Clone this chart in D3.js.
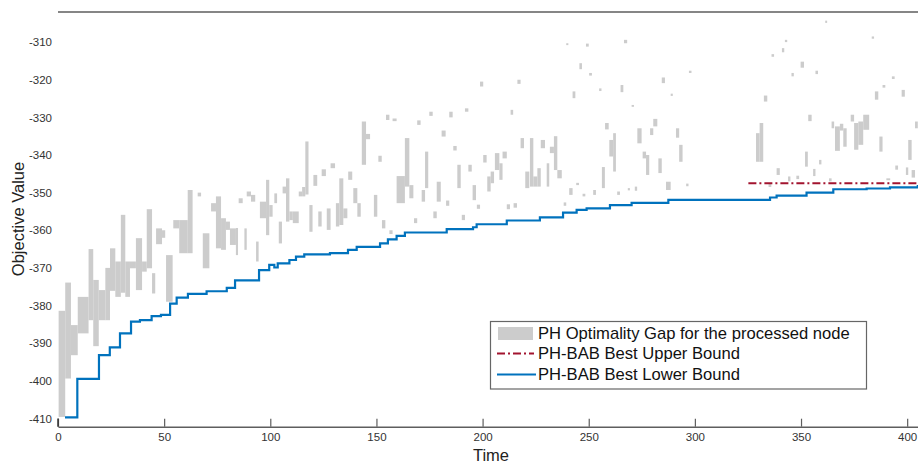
<!DOCTYPE html>
<html>
<head>
<meta charset="utf-8">
<script src="https://cdn.jsdelivr.net/npm/d3@7"></script>
<style>
	body { margin: 0; background: #fff; }
	svg { display: block; font-family: "Liberation Sans", Arial, sans-serif; }
</style>
</head>
<body>
<div id="chart"></div>
<script>

//Optimality gap of each processed node: start time, end time, lower value, upper value
var gapStart = [0.3, 3.4, 6.1, 9.3, 14.4, 16.6, 19.2, 22.3, 24.5, 27, 29.6, 31.7, 33.9, 36.7, 39.6, 41.8, 44.3, 46.2, 49, 50.9,
	54.3, 57.1, 61.1, 65.8, 68.2, 72.1, 74.4, 76.8, 79.1, 81, 83.8, 85.1, 87.8, 88.9, 90.9, 93.3, 95.1, 98, 99.5, 101.9,
	104, 105.8, 107.4, 109, 110.6, 113.4, 115, 116.5, 118.4, 120.3, 122.6, 124.2, 126.6, 128.4, 130.9, 132.5, 134.4, 136.7, 139.1, 141,
	143.1, 145.1, 148.8, 150.9, 152.6, 154.5, 156.1, 157.6, 159.5, 163.4, 165.5, 167.7, 169.2, 171.3, 172.9, 174.9, 176.8, 178.4, 180.7, 182.8,
	184.3, 186.2, 188.1, 190.2, 191.7, 193.3, 195.3, 197.3, 198.8, 200.3, 202.2, 203.8, 205.8, 207.9, 209.4, 211.4, 213.2, 214.6, 216.4, 217.9,
	220.1, 222.3, 223.9, 225.8, 227.4, 230.2, 231.7, 233.6, 235.2, 238.2, 239.4, 240.8, 242.4, 244.1, 245.6, 247.1, 248.7, 250.2, 252.1, 254.9,
	256.2, 257.7, 259.7, 261.5, 263.4, 265, 266.6, 268.4, 270.2, 271.7, 272.9, 275.4, 277, 278.9, 280.4, 282.8, 284.4, 286.4, 288.6, 291.1,
	292.6, 295.9, 297.2, 328.8, 330.5, 332.5, 334.7, 336.1, 338.5, 341, 342.4, 343.9, 345.5, 347.8, 349.8, 351.9, 353.4, 355.7, 356.8, 358.5,
	361.4, 363.2, 364.4, 366, 368.3, 369.9, 373.4, 375, 377, 379.3, 383.3, 384.8, 386.9, 388.4, 390.2, 392.8, 394.4, 397.4, 399.4, 400.5,
	402.1, 403.7];
var gapEnd = [3.4, 6.1, 9.3, 14.4, 16.6, 19.2, 22.3, 24.5, 27, 29.6, 31.7, 33.9, 36.7, 39.6, 41.8, 44.3, 45.8, 49, 50.5, 54,
	57.1, 61.1, 63.4, 67.4, 71.3, 74.4, 76.8, 79.1, 81, 83.8, 84.8, 87, 88.9, 90.9, 92.9, 94.5, 98, 99.5, 101.1, 103.2,
	105.5, 107.4, 109, 110.6, 113.4, 115, 116.5, 118, 119.9, 122.1, 124.2, 126.2, 128.4, 130.5, 132.5, 134.4, 136.3, 138.6, 141, 142.6,
	145.1, 147, 150.4, 152.5, 154.2, 156.1, 157.6, 159.5, 163.4, 165.5, 167.4, 169.2, 170.8, 172.9, 174.4, 176.5, 178.4, 180.3, 182.6, 184.3,
	185.9, 187.8, 189.7, 191.7, 193.3, 194.9, 196.9, 198.8, 200.3, 201.9, 203.8, 205.4, 207.9, 209.4, 211.4, 212.9, 214.4, 216.2, 217.9, 219.5,
	222, 223.9, 225.8, 227.4, 229.4, 231.4, 233.6, 235.2, 237.3, 239.4, 240.4, 242.4, 243.7, 245.4, 246.8, 248.4, 250, 251.5, 253.4, 256,
	257.6, 259.4, 261.5, 262.8, 264.7, 266.3, 268.1, 269.4, 271.3, 272.8, 274.9, 277, 278.5, 280.4, 282.3, 284.4, 285.9, 288.6, 289.6, 292.6,
	294.2, 297, 298.4, 330.5, 332.2, 334.1, 336, 337.3, 340, 342.1, 343.5, 345, 346.6, 349.1, 351.4, 353.2, 355, 356.8, 358, 359.6,
	362.3, 364.4, 365.6, 368.3, 369.9, 371.5, 375, 377, 379.3, 382.1, 384.4, 386.4, 388.4, 389.7, 392, 394.1, 395.7, 398.9, 400.5, 402.1,
	403.7, 405];
var gapLow = [-409.6, -399.4, -393.2, -387.4, -383.9, -390.8, -383.9, -383.9, -376.1, -377.7, -376.6, -377.7, -370.1, -375.9, -371, -370.1, -376.8, -363.7, -362, -379,
	-359.5, -366.1, -366.1, -351, -370.1, -355, -364.8, -365.2, -359.9, -363.9, -366.6, -352.8, -365.2, -351, -352.4, -368.3, -356.8, -361.3, -356.4, -352.8,
	-363.5, -350.2, -357.7, -357.3, -358.1, -351, -351, -350.5, -360.4, -348.2, -359, -345.6, -359.9, -343.5, -359, -358.6, -356.8, -346.6, -352.8, -356.4,
	-342.6, -335.8, -356.4, -341.8, -359.5, -330.7, -361, -331, -352.8, -348.4, -351.5, -358.1, -332, -352.4, -348.8, -329.6, -356.8, -352.4, -335.1, -353.5,
	-330, -338.8, -348.8, -357.3, -328.5, -344.4, -352, -354.3, -321.8, -342, -349.7, -347.5, -344, -346.6, -340.9, -354.4, -329.3, -354, -321.1, -338.2,
	-348.8, -348.4, -348.4, -348.4, -338.2, -348.4, -339.5, -344, -346.2, -353.5, -310.8, -350.6, -324.9, -348, -317.2, -351, -311.2, -318.9, -350.6, -323,
	-348.8, -333.2, -340.4, -344.4, -350.6, -323.3, -310.3, -349.4, -327.2, -349.5, -336.9, -340.9, -345.3, -334.7, -332.4, -344.8, -320.9, -349.3, -324.3, -335.4,
	-341.8, -348.3, -318.2, -341.8, -341.8, -325.8, -348.5, -313.9, -345.3, -312.7, -310, -347, -319.1, -346.4, -316.8, -343.1, -331, -345.6, -318.5, -342.5,
	-304.9, -347, -332.9, -338.9, -333.5, -337.8, -331.1, -338.6, -337.3, -333.3, -309.1, -325.3, -339.1, -322.1, -346.7, -319.8, -343.9, -324.5, -345.3, -341.3,
	-346, -332.9];
var gapHigh = [-381.4, -373.9, -385.2, -377.7, -365, -373.2, -375.9, -370, -364.8, -368.3, -355.9, -368.3, -368.3, -362.1, -368.3, -354.4, -371.4, -359.5, -360, -366.6,
	-357.3, -357.3, -349.3, -350, -360.8, -352.8, -351, -356.8, -357.7, -359.5, -359.4, -351.5, -359.5, -349.7, -350.6, -363, -352.4, -346.6, -353.3, -350.2,
	-357.7, -348.4, -346.2, -355, -355, -349.7, -348.5, -336.4, -353.3, -345.3, -355, -343.8, -354.2, -342.2, -352.8, -346.2, -354.2, -344.4, -348.8, -352.8,
	-331.1, -334.4, -350.6, -340.2, -357.3, -329.3, -360, -330.3, -345.6, -335.5, -348, -356.8, -330.8, -349.3, -339.1, -328.5, -355, -347.1, -333.5, -352.1,
	-328.5, -337.6, -342.6, -355.9, -327.6, -342.6, -348, -353.2, -320.5, -340, -345.7, -344.4, -339.5, -342.2, -339.1, -353.1, -328, -352.8, -320, -335.5,
	-344.4, -335.5, -345.7, -343.5, -336, -342.2, -337.8, -335, -344, -352.6, -310.3, -348.8, -323.1, -347.4, -315.6, -350.3, -310.4, -318.2, -349.3, -322.3,
	-343.2, -331.5, -336, -334.2, -349.7, -321.4, -309.4, -348.8, -326.7, -348.4, -332.9, -339.1, -340, -332.9, -330.4, -340.9, -319.4, -347.1, -323.7, -332.9,
	-337.3, -347.6, -317.6, -334.2, -331.5, -324.2, -347.5, -313.2, -343.5, -311.6, -309.4, -345.7, -318.2, -345.5, -315.2, -339.1, -329.3, -343.7, -317.6, -341.3,
	-304.3, -346.2, -331.1, -332.4, -331.7, -332.9, -329.3, -331.5, -331.1, -329.3, -308.5, -323.1, -335.1, -321.4, -346.2, -319.1, -342.8, -322.7, -343.3, -336,
	-344, -331.1];

//Best lower bound, a step that holds its value from the given time on
var lbTime = [3.3, 9.1, 19.3, 24.4, 29.2, 34.4, 38.6, 44.1, 48.5, 52.8, 55.9, 61.2, 70, 79.5, 83.4, 94.7, 99.5, 101.9, 103.5, 109,
	112.1, 116, 128.1, 136.6, 140.7, 151.7, 155.4, 159.5, 163.4, 183.1, 195.5, 197.2, 211.4, 227, 237.9, 244.3, 249, 260, 270.2, 287.5,
	335.4, 338.5, 352.6, 365.2, 380.9, 391.9, 405];
var lbValue = [-409.7, -399.5, -393.2, -391.1, -387.4, -384.3, -383.9, -382.8, -382.5, -379.5, -377.9, -376.9, -376.2, -375.3, -373.3, -370.6, -369.2, -369.9, -368.8, -367.9,
	-367, -366.4, -366.1, -365.2, -364.4, -363.5, -362.4, -361.5, -360.6, -359.7, -359.2, -358.4, -357.4, -356.6, -355.3, -354.6, -354.2, -353.3, -352.7, -351.9,
	-351.3, -350.8, -350, -349.1, -348.9, -348.6, -348];

//Best upper bound, only found late in the run
var ubTime = [325.2, 405];
var ubValue = [-347.5, -347.5];

var xTicks = [0, 50, 100, 150, 200, 250, 300, 350, 400];
var yTicks = [-410, -400, -390, -380, -370, -360, -350, -340, -330, -320, -310];

var legendLabels = ["PH Optimality Gap for the processed node", "PH-BAB Best Upper Bound", "PH-BAB Best Lower Bound"];

var width = 918, height = 463;
var plot = {left: 58, right: 918, top: 12, bottom: 426.7};

var svg = d3.select("#chart").append("svg")
	.attr("width", width)
	.attr("height", height);

var x = d3.scaleLinear().domain([0, 405.1]).range([plot.left, plot.right]);
var y = d3.scaleLinear().domain([-412.2, -302]).range([plot.bottom, plot.top]);

svg.append("clipPath")
	.attr("id", "clip")
	.append("rect")
		.attr("x", plot.left)
		.attr("y", plot.top)
		.attr("width", plot.right - plot.left)
		.attr("height", plot.bottom - plot.top);

var layer = svg.append("g").attr("clip-path", "url(#clip)");

//gap patches
var gaps = d3.range(gapStart.length).map(function(i){
	return {t0: gapStart[i], t1: gapEnd[i], lo: gapLow[i], hi: gapHigh[i]};
});

layer.append("g")
	.attr("class", "gaps")
	.selectAll("rect")
	.data(gaps)
	.enter()
		.append("rect")
			.attr("x", function(d){ return x(d.t0); })
			.attr("width", function(d){ return Math.max(1, x(d.t1) - x(d.t0)); })
			.attr("y", function(d){ return y(d.hi); })
			.attr("height", function(d){ return Math.max(1.5, y(d.lo) - y(d.hi)); })
			.attr("fill", "#cccccc");

var lowerLine = d3.line()
	.x(function(d){ return x(d[0]); })
	.y(function(d){ return y(d[1]); })
	.curve(d3.curveStepAfter);

var upperLine = d3.line()
	.x(function(d){ return x(d[0]); })
	.y(function(d){ return y(d[1]); });

layer.append("path")
	.datum(d3.zip(ubTime, ubValue))
	.attr("d", upperLine)
	.attr("fill", "none")
	.attr("stroke", "#a2142f")
	.attr("stroke-width", 2)
	.attr("stroke-dasharray", "8,3,2,3");

layer.append("path")
	.datum(d3.zip(lbTime, lbValue))
	.attr("d", lowerLine)
	.attr("fill", "none")
	.attr("stroke", "#0072bd")
	.attr("stroke-width", 2.2);

//axes, plain hyphen for negative labels like the original
var plainFormat = function(d){ return String(d); };
var axisColor = "#5e5e5e";

var xAxis = svg.append("g")
	.attr("transform", "translate(0," + plot.bottom + ")")
	.call(d3.axisBottom(x).tickValues(xTicks).tickFormat(plainFormat).tickSizeInner(-8).tickSizeOuter(0).tickPadding(6));

xAxis.select(".domain").attr("stroke", axisColor).attr("stroke-width", 1.6);
xAxis.selectAll(".tick line").attr("stroke", axisColor).attr("stroke-width", 1.2);
xAxis.selectAll(".tick text")
	.attr("fill", "#333")
	.style("font-size", "11.5px")
	.style("font-family", "'Liberation Sans', Arial, sans-serif");

var yAxis = svg.append("g")
	.attr("transform", "translate(" + plot.left + ",0)")
	.call(d3.axisLeft(y).tickValues(yTicks).tickFormat(plainFormat).tickSize(0).tickPadding(6));

//only the stub below -410 of the y axis shows
yAxis.select(".domain").remove();
yAxis.append("line")
	.attr("x1", 0).attr("x2", 0)
	.attr("y1", y(-410)).attr("y2", plot.bottom)
	.attr("stroke", "#333")
	.attr("stroke-width", 1.5);

yAxis.selectAll(".tick text")
	.attr("fill", "#333")
	.style("font-size", "11.5px")
	.style("font-family", "'Liberation Sans', Arial, sans-serif");

svg.append("line")
	.attr("x1", plot.left).attr("x2", plot.right)
	.attr("y1", plot.top).attr("y2", plot.top)
	.attr("stroke", axisColor)
	.attr("stroke-width", 1.7);

svg.append("text")
	.attr("x", 491)
	.attr("y", 461)
	.attr("text-anchor", "middle")
	.style("font-size", "16.5px")
	.attr("fill", "#222")
	.text("Time");

svg.append("text")
	.attr("transform", "translate(24,219) rotate(-90)")
	.attr("text-anchor", "middle")
	.style("font-size", "16.5px")
	.attr("fill", "#222")
	.text("Objective Value");

//legend
var legend = svg.append("g").attr("class", "legend");

legend.append("rect")
	.attr("x", 490.5).attr("y", 321.5)
	.attr("width", 376).attr("height", 67.5)
	.attr("fill", "#fff")
	.attr("stroke", "#666")
	.attr("stroke-width", 1.2);

var rowY = [333, 353.5, 374.5];

legend.append("rect")
	.attr("x", 498).attr("y", rowY[0] - 6)
	.attr("width", 35).attr("height", 13)
	.attr("fill", "#cccccc");

legend.append("line")
	.attr("x1", 497).attr("x2", 534)
	.attr("y1", rowY[1]).attr("y2", rowY[1])
	.attr("stroke", "#a2142f")
	.attr("stroke-width", 2)
	.attr("stroke-dasharray", "8,3,2,3");

legend.append("line")
	.attr("x1", 497).attr("x2", 536)
	.attr("y1", rowY[2]).attr("y2", rowY[2])
	.attr("stroke", "#0072bd")
	.attr("stroke-width", 2.2);

legend.selectAll("text.label")
	.data(legendLabels)
	.enter()
		.append("text")
			.attr("class", "label")
			.attr("x", 538)
			.attr("y", function(d, i){ return rowY[i] + 5.5; })
			.style("font-size", "16.6px")
			.attr("fill", "#111")
			.text(function(d){ return d; });

</script>
</body>
</html>
